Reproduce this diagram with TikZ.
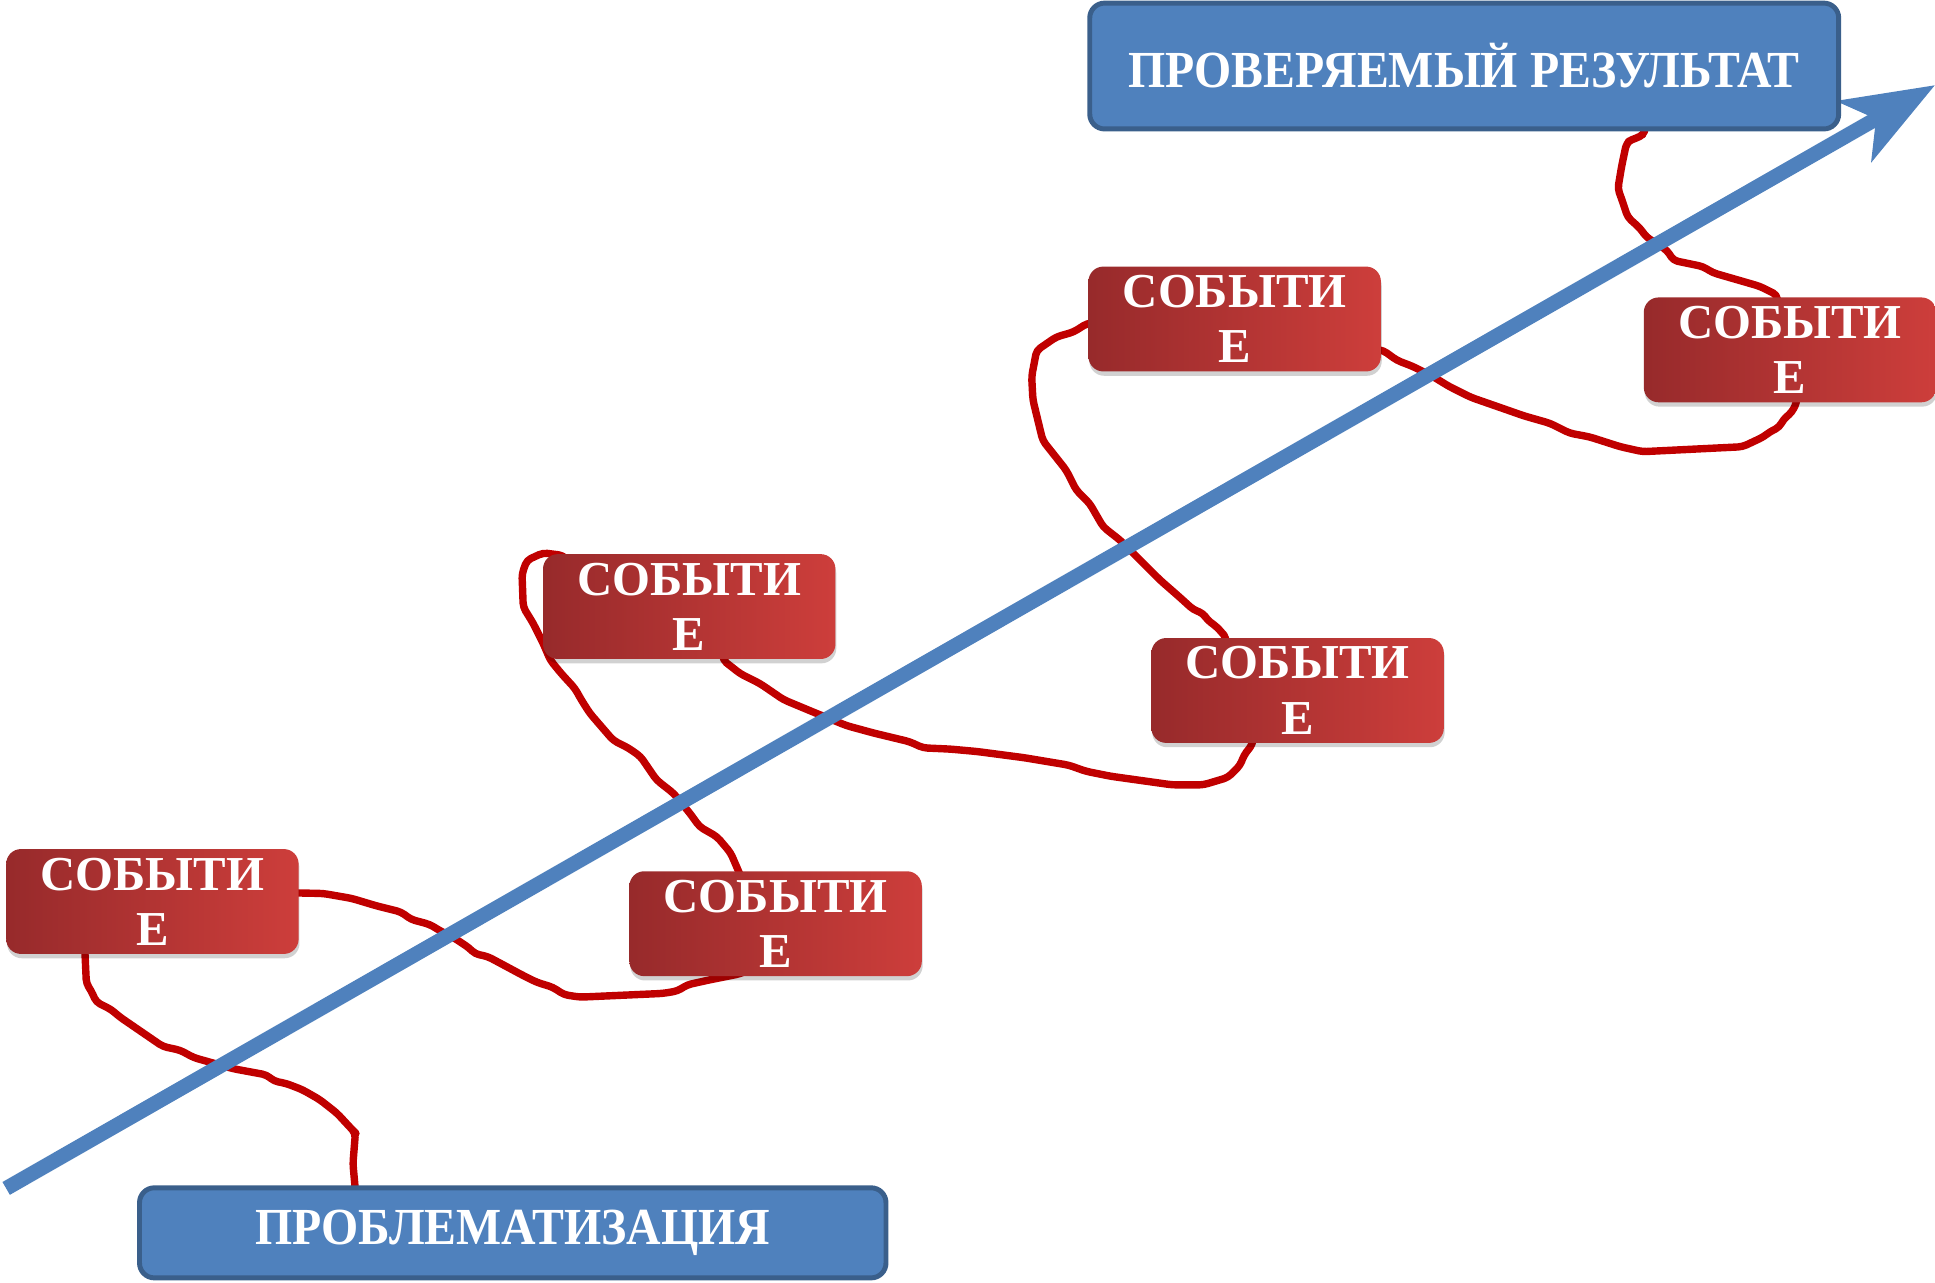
\documentclass[tikz,border=0pt]{standalone}
\usepackage{fontspec}
\usepackage{graphicx}
\setmainfont{Liberation Serif}
\usetikzlibrary{arrows.meta,shadows,calc}
\definecolor{boxblue}{HTML}{4F81BD}
\definecolor{boxborder}{HTML}{3A5F8B}
\definecolor{redL}{HTML}{972A2B}
\definecolor{redR}{HTML}{CD3E3B}
\definecolor{wirered}{HTML}{C00000}
\pgfdeclarelayer{bg}
\pgfsetlayers{bg,main}
\begin{document}
\begin{tikzpicture}[x=0.02cm,y=-0.02cm,
  event/.style={rounded corners=0.24cm, left color=redL, right color=redR,
    minimum width=4.74cm, minimum height=1.7cm, inner sep=0pt, align=center,
    text=white, font=\fontsize{22.5}{25.5}\selectfont\bfseries,
    drop shadow={shadow xshift=0.4pt, shadow yshift=-2pt, opacity=0.18, fill=black}},
  goal/.style={rounded corners=0.24cm, fill=boxblue, draw=boxborder, line width=0.08cm,
    inner sep=0pt, text=white, font=\fontsize{24}{28}\selectfont\bfseries},
  wire/.style={draw=wirered, line width=0.12cm, line join=round, line cap=round,
    rounded corners=0.07cm},
  axis/.style={draw=boxblue, fill=boxblue, line width=0.24cm,
    -{Stealth[length=1.5cm,width=1.12cm,inset=0.4cm]}}]
\useasboundingbox (0,0) rectangle (1568,1039);

% boxes
\node[goal, minimum width=12.14cm, minimum height=2.04cm] (res) at (1186.5,53.5)
  {\resizebox{10.88cm}{\height}{ПРОВЕРЯЕМЫЙ РЕЗУЛЬТАТ}};
\node[goal, minimum width=12.1cm, minimum height=1.46cm] (prob) at (415.5,999)
  {\resizebox{8.34cm}{\height}{ПРОБЛЕМАТИЗАЦИЯ}};

\node[event] (evA) at (123.5,730.5) {СОБЫТИ\\Е};
\node[event] (evB) at (628.5,748.5) {СОБЫТИ\\Е};
\node[event] (evC) at (558.5,491.5) {СОБЫТИ\\Е};
\node[event] (evD) at (1051.5,559.5) {СОБЫТИ\\Е};
\node[event] (evE) at (1000.5,258.5) {СОБЫТИ\\Е};
\node[event] (evF) at (1450.5,283.5) {СОБЫТИ\\Е};

\coordinate (a0) at (5,963);
\coordinate (a1) at (1568,69);

\begin{pgfonlayer}{bg}
% wandering path
\draw[wire] ($(prob.north west)+(177,5)$) -- (286,943) -- (288,918) -- (286,916) -- (273,902)
  -- (259,891) -- (245,883) -- (232,878) -- (222,876) -- (216,871) -- (189,866) -- (157,857)
  -- (146,851) -- (132,848) -- (97,824) -- (90,818) -- (78,812) -- (74,803) -- (70,797)
  -- ($(evA.south west)+(64,-5)$);
\draw[wire] ($(evA.east)+(-5,-7)$) -- (262,724) -- (285,728) -- (305,734) -- (325,739)
  -- (333,745) -- (348,749) -- (358,755) -- (368,760) -- (380,768) -- (385,773) -- (395,775)
  -- (410,783) -- (423,790) -- (435,796) -- (448,800) -- (457,806) -- (470,808) -- (537,805)
  -- (549,803) -- (557,798) -- (575,794) -- (600,789) -- ($(evB.south)+(-23,-5)$);
\draw[wire] ($(evB.north)+(-28,5)$) -- (592,691) -- (581,678) -- (567,670) -- (559,659)
  -- (546,643) -- (532,632) -- (519,613) -- (509,606) -- (497,600) -- (478,578) -- (471,567)
  -- (466,558) -- (455,546) -- (446,535) -- (440,521) -- (432,505) -- (424,492) -- (423,465)
  -- (427,454) -- (440,448) -- (456,450) -- ($(evC.north west)+(20,5)$);
\draw[wire] ($(evC.south)+(27,-5)$) -- (586,535) -- (600,546) -- (616,554) -- (635,567)
  -- (659,577) -- (686,588) -- (708,594) -- (737,601) -- (748,606) -- (770,607) -- (792,609)
  -- (830,614) -- (866,620) -- (880,625) -- (900,629) -- (950,636) -- (975,636) -- (995,630)
  -- (1005,620) -- (1008,612) -- (1015,603) -- ($(evD.south)+(-36,-5)$);
\draw[wire] ($(evD.north west)+(60,5)$) -- (994,517) -- (986,508) -- (978,502) -- (975,497)
  -- (967,494) -- (956,484) -- (940,470) -- (924,454) -- (908,438) -- (894,427) -- (883,408)
  -- (872,397) -- (864,381) -- (845,357) -- (837,324) -- (836,305) -- (840,284) -- (856,273)
  -- (870,269) -- (881,262) -- ($(evE.west)+(5,3)$);
\draw[wire] ($(evE.east)+(-5,24.5)$) -- (1121,284) -- (1132,292) -- (1145,297) -- (1161,305)
  -- (1174,313) -- (1192,322) -- (1215,330) -- (1235,337) -- (1256,343) -- (1272,351)
  -- (1288,354) -- (1313,362) -- (1331,366) -- (1412,362) -- (1429,354) -- (1434,350)
  -- (1442,346) -- (1445,340) -- (1452,334) -- (1456,326) -- ($(evF.south)+(5.5,-5)$);
\draw[wire] ($(evF.north)+(-10,5)$) -- (1440,239) -- (1426,232) -- (1388,221) -- (1380,216)
  -- (1356,211) -- (1351,203) -- (1334,192) -- (1329,185) -- (1319,176) -- (1314,161)
  -- (1311,153) -- (1314,135) -- (1318,116) -- (1322,113) -- (1329,111) -- (1333,107)
  -- ($(res.south)+(147,-5)$);
% main axis
\draw[axis] (a0) -- (a1);
\end{pgfonlayer}
\end{tikzpicture}
\end{document}
